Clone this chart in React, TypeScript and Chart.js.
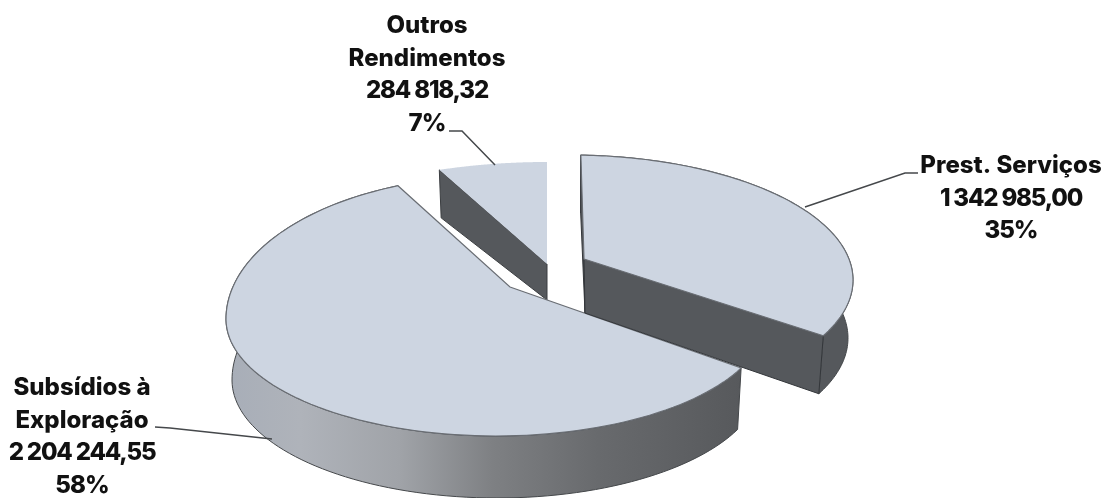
import React, { useEffect, useRef } from "react";
import { Chart, registerables } from "chart.js";

Chart.register(...registerables);

const categories = ["Prest. Serviços", "Subsídios à Exploração", "Outros Rendimentos"];
const values = [1342985.0, 2204244.55, 284818.32];
const valueLabels = ["1 342 985,00", "2 204 244,55", "284 818,32"];
const percentLabels = ["35%", "58%", "7%"];

const FACE = "#cdd5e1";
const DARK = "#55585c";
const FONT = "800 24px Inter, 'Liberation Sans', sans-serif";

type Ell = { cx: number; cy: number; a: number; bUp: number; bDown: number; phase: number };
type Geo = { top: Ell; bottom: Ell; apex: number[]; apexBottom: number[] };

const geometry: Geo[] = [
  {
    top: { cx: 570, cy: 280, a: 283, bUp: 125, bDown: 125, phase: 2.2 },
    bottom: { cx: 570, cy: 338, a: 278, bUp: 125, bDown: 125, phase: 2.2 },
    apex: [584, 259],
    apexBottom: [585, 313],
  },
  {
    top: { cx: 496, cy: 319, a: 270, bUp: 143, bDown: 117, phase: 0.5 },
    bottom: { cx: 497, cy: 380, a: 265, bUp: 143, bDown: 118, phase: 0.5 },
    apex: [510, 287],
    apexBottom: [510, 340],
  },
  {
    top: { cx: 547, cy: 272, a: 290, bUp: 110, bDown: 110, phase: 0 },
    bottom: { cx: 547, cy: 320, a: 285, bUp: 110, bDown: 110, phase: 0 },
    apex: [547, 264],
    apexBottom: [547, 300],
  },
];

const labelLayout = [
  { x: 1011, y: 173, lines: ["Prest. Serviços"], leader: [[918, 173], [905, 173], [805, 207]] },
  { x: 82, y: 395, lines: ["Subsídios à", "Exploração"], leader: [[155, 427], [170, 428], [272, 439]] },
  { x: 427, y: 33, lines: ["Outros", "Rendimentos"], leader: [[449, 131], [462, 131], [495, 165]] },
];

// perspective warp of the pie angle (radians, clockwise from 12 o'clock)
const warp = (t: number) => t + (-13.24 * Math.sin(t) + 1.25 * Math.sin(2 * t)) * (Math.PI / 180);

const rim = (e: Ell, t: number) => {
  const p = warp(t) + (e.phase * Math.PI) / 180;
  const c = Math.cos(p);
  return [e.cx + e.a * Math.sin(p), e.cy - (c > 0 ? e.bUp : e.bDown) * c];
};

const arcPts = (e: Ell, s: number, t: number) => {
  const out: number[][] = [];
  const n = 120;
  for (let i = 0; i <= n; i++) out.push(rim(e, s + ((t - s) * i) / n));
  return out;
};

const poly = (ctx: CanvasRenderingContext2D, pts: number[][], close = true) => {
  ctx.beginPath();
  pts.forEach((p, i) => (i ? ctx.lineTo(p[0], p[1]) : ctx.moveTo(p[0], p[1])));
  if (close) ctx.closePath();
};

const fillPoly = (
  ctx: CanvasRenderingContext2D,
  pts: number[][],
  fill: string | CanvasGradient,
  stroke: string,
  lw = 1
) => {
  poly(ctx, pts);
  ctx.fillStyle = fill;
  ctx.fill();
  ctx.strokeStyle = stroke;
  ctx.lineWidth = lw;
  ctx.stroke();
};

const pie3d = {
  id: "pie3d",
  beforeDatasetDraw(chart: any) {
    const ctx: CanvasRenderingContext2D = chart.ctx;
    const arcs = chart.getDatasetMeta(0).data;
    ctx.save();
    [2, 1, 0].forEach((i) => {
      const g = geometry[i];
      const s = arcs[i].startAngle + Math.PI / 2;
      const t = arcs[i].endAngle + Math.PI / 2;
      const topRim = arcPts(g.top, s, t);
      const botRim = arcPts(g.bottom, s, t);
      // outer wall
      const grad = ctx.createLinearGradient(232, 0, 853, 0);
      if (i === 1) {
        grad.addColorStop(0, "#a8aeb8");
        grad.addColorStop(0.11, "#afb3ba");
        grad.addColorStop(0.27, "#a0a3a8");
        grad.addColorStop(0.42, "#7e8083");
        grad.addColorStop(0.59, "#686a6d");
        grad.addColorStop(0.82, "#57595c");
        grad.addColorStop(1, "#55585c");
      } else {
        grad.addColorStop(0, DARK);
        grad.addColorStop(1, DARK);
      }
      if (i !== 2) fillPoly(ctx, [...topRim, ...botRim.slice().reverse()], grad, "#44474a", 1);
      // cut walls
      if (i === 0) {
        fillPoly(ctx, [g.apex, topRim[0], botRim[0], g.apexBottom], DARK, "#33363a", 1);
        fillPoly(ctx, [g.apex, topRim[120], botRim[120], g.apexBottom], DARK, "#33363a", 1);
      }
      if (i === 2) {
        fillPoly(ctx, [g.apex, topRim[0], botRim[0], g.apexBottom], DARK, "#3a3d40", 1);
      }
      // top face
      poly(ctx, [g.apex, ...topRim]);
      ctx.fillStyle = FACE;
      ctx.fill();
      if (i !== 2) {
        ctx.strokeStyle = "#6a6e74";
        ctx.lineWidth = 1.2;
        ctx.stroke();
      }
    });
    ctx.restore();
    return false;
  },
  afterDraw(chart: any) {
    const ctx: any = chart.ctx;
    ctx.save();
    ctx.font = FONT;
    ctx.textAlign = "center";
    ctx.textBaseline = "alphabetic";
    ctx.fillStyle = "#111111";
    categories.forEach((_, i) => {
      const l = labelLayout[i];
      const n = l.lines.length;
      const lines = [...l.lines, valueLabels[i], percentLabels[i]];
      lines.forEach((txt, k) => {
        ctx.letterSpacing = k === n ? "-1.2px" : k === n + 1 ? "-1px" : "0px";
        ctx.fillText(txt, l.x, l.y + k * 32.7);
      });
      poly(ctx, l.leader, false);
      ctx.strokeStyle = "#45484b";
      ctx.lineWidth = 1.5;
      ctx.stroke();
    });
    ctx.restore();
  },
};

export default function App() {
  const ref = useRef<HTMLCanvasElement>(null);
  useEffect(() => {
    const chart = new Chart(ref.current!, {
      type: "pie",
      data: {
        labels: categories,
        datasets: [{ data: values, backgroundColor: FACE, borderWidth: 0 }],
      },
      options: {
        animation: false,
        responsive: false,
        plugins: { legend: { display: false }, tooltip: { enabled: false } },
      },
      plugins: [pie3d],
    } as any);
    return () => chart.destroy();
  }, []);
  return (
    <div style={{ position: "absolute", left: 0, top: 0, width: 1103, height: 498, background: "#fff" }}>
      <canvas ref={ref} width={1103} height={498} style={{ display: "block" }} />
    </div>
  );
}
